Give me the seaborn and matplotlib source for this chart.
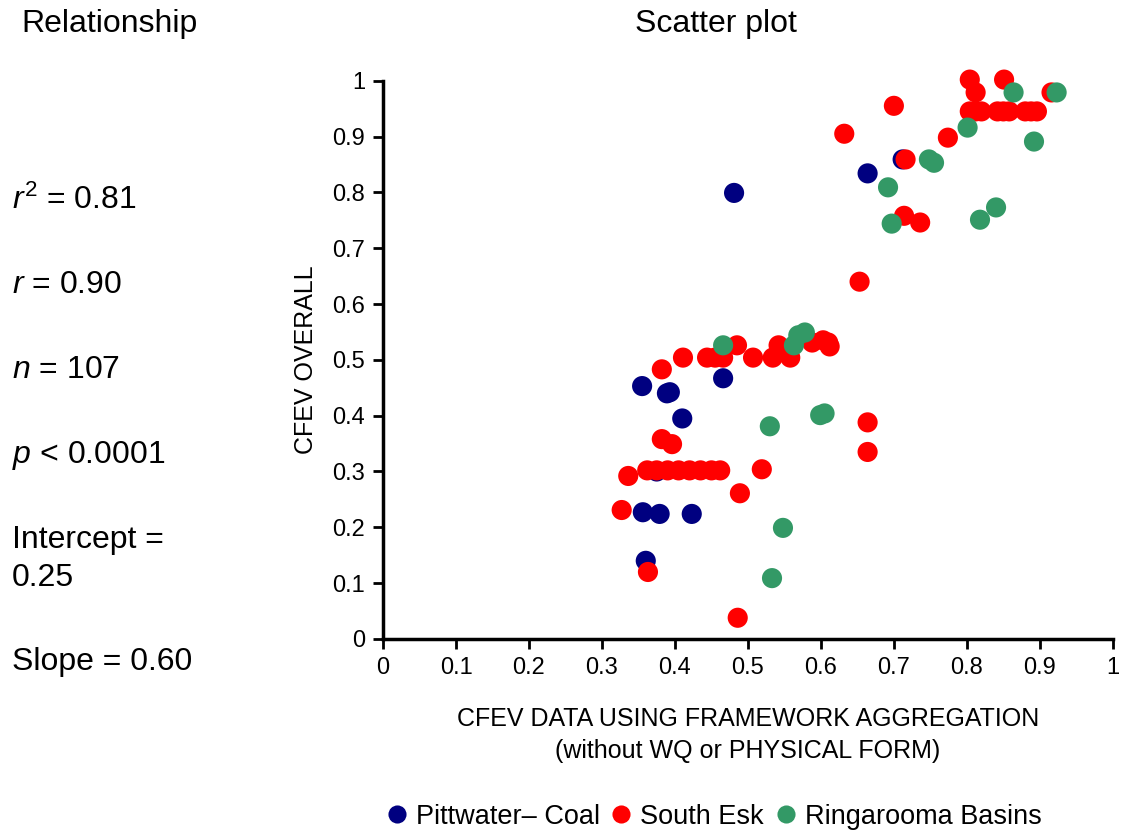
import matplotlib
matplotlib.use('Agg')
import matplotlib.pyplot as plt
import seaborn as sns
import numpy as np
import pandas as pd

sns.set_style('white')
plt.rcParams['font.family'] = ['Liberation Sans', 'DejaVu Sans']
plt.rcParams['mathtext.fontset'] = 'custom'
plt.rcParams['mathtext.rm'] = 'Liberation Sans'
plt.rcParams['mathtext.it'] = 'Liberation Sans:italic'
plt.rcParams['text.color'] = 'black'
plt.rcParams['axes.labelcolor'] = 'black'
plt.rcParams['xtick.color'] = 'black'
plt.rcParams['ytick.color'] = 'black'

# Pittwater– Coal
pitt_x = [0.481, 0.712, 0.664, 0.466, 0.355, 0.389, 0.393, 0.410, 0.375,
          0.356, 0.379, 0.423, 0.360]
pitt_y = [0.799, 0.859, 0.834, 0.467, 0.453, 0.440, 0.442, 0.395, 0.300,
          0.227, 0.224, 0.224, 0.140]

# South Esk
esk_x = [0.804, 0.851, 0.812, 0.916, 0.700,
         0.804, 0.812, 0.820, 0.842, 0.850, 0.858, 0.880, 0.888, 0.896,
         0.632, 0.774, 0.716, 0.714, 0.736, 0.653,
         0.485, 0.411, 0.444, 0.455, 0.466, 0.507, 0.534, 0.558, 0.542,
         0.588, 0.603, 0.610, 0.612, 0.382,
         0.664, 0.664, 0.382, 0.396,
         0.362, 0.375, 0.390, 0.405, 0.420, 0.435, 0.450, 0.462,
         0.336, 0.519, 0.489, 0.327, 0.363, 0.486]
esk_y = [1.002, 1.002, 0.979, 0.979, 0.955,
         0.945, 0.945, 0.945, 0.945, 0.945, 0.945, 0.945, 0.945, 0.945,
         0.905, 0.898, 0.859, 0.758, 0.746, 0.640,
         0.526, 0.504, 0.504, 0.504, 0.504, 0.504, 0.504, 0.504, 0.526,
         0.531, 0.535, 0.531, 0.524, 0.483,
         0.388, 0.335, 0.358, 0.349,
         0.302, 0.302, 0.302, 0.302, 0.302, 0.302, 0.302, 0.302,
         0.292, 0.304, 0.261, 0.231, 0.120, 0.038]

# Ringarooma Basins
ring_x = [0.864, 0.923, 0.801, 0.892, 0.748, 0.755, 0.692, 0.697, 0.840,
          0.818, 0.466, 0.563, 0.569, 0.578, 0.530, 0.599, 0.605, 0.548,
          0.533]
ring_y = [0.979, 0.979, 0.916, 0.891, 0.859, 0.853, 0.809, 0.744, 0.773,
          0.751, 0.526, 0.526, 0.544, 0.549, 0.381, 0.401, 0.404, 0.199,
          0.109]

groups = ['Pittwater– Coal', 'South Esk', 'Ringarooma Basins']
colors = ['#000080', '#FF0000', '#339966']

ticks = [0, 0.1, 0.2, 0.3, 0.4, 0.5, 0.6, 0.7, 0.8, 0.9, 1]
tick_labels = ['0', '0.1', '0.2', '0.3', '0.4', '0.5', '0.6', '0.7', '0.8', '0.9', '1']

stats = [r'$\mathit{r}^2$ = 0.81', r'$\mathit{r}$ = 0.90', r'$\mathit{n}$ = 107',
         r'$\mathit{p}$ < 0.0001', 'Intercept =\n0.25', 'Slope = 0.60']

df = pd.DataFrame({
    'x': pitt_x + esk_x + ring_x,
    'y': pitt_y + esk_y + ring_y,
    'group': [groups[0]] * len(pitt_x) + [groups[1]] * len(esk_x) + [groups[2]] * len(ring_x),
})

fig = plt.figure(figsize=(11.21, 8.32), dpi=100)
ax = fig.add_axes([0.3417, 0.232, 0.651, 0.671])

sns.scatterplot(data=df, x='x', y='y', hue='group', hue_order=groups,
                palette=colors, s=210, edgecolor='none', alpha=1, ax=ax,
                legend=True, clip_on=False, zorder=3)

ax.set_xlim(0, 1)
ax.set_ylim(0, 1)
ax.set_xticks(ticks)
ax.set_xticklabels(tick_labels)
ax.set_yticks(ticks)
ax.set_yticklabels(tick_labels)
ax.tick_params(axis='both', direction='out', length=7, width=2, labelsize=17,
               color='black', pad=6)
ax.xaxis.set_ticks_position('bottom')
ax.yaxis.set_ticks_position('left')
sns.despine(ax=ax)
for side in ['left', 'bottom']:
    ax.spines[side].set_linewidth(2.5)
    ax.spines[side].set_color('black')

ax.set_xlabel('CFEV DATA USING FRAMEWORK AGGREGATION\n(without WQ or PHYSICAL FORM)',
              fontsize=18, labelpad=20, linespacing=1.45)
ax.set_ylabel('CFEV OVERALL', fontsize=18, labelpad=10)

leg = ax.legend(loc='center', bbox_to_anchor=(0.453, -0.318), ncol=3,
                frameon=False, fontsize=19.5, handlelength=0.8, handletextpad=0.3,
                columnspacing=0.4, markerscale=0.9, borderaxespad=0, borderpad=0)

fig.text(716 / 1121, 1 - 24 / 832, 'Scatter plot', fontsize=23, ha='center', va='center')
fig.text(110 / 1121, 1 - 24 / 832, 'Relationship', fontsize=23, ha='center', va='center')

ypos = [200, 285, 370, 455, 559, 662]
for txt, yp in zip(stats, ypos):
    fig.text(12 / 1121, 1 - yp / 832, txt, fontsize=23, ha='left', va='center',
             linespacing=1.35)

fig.savefig('out.png', dpi=100)
